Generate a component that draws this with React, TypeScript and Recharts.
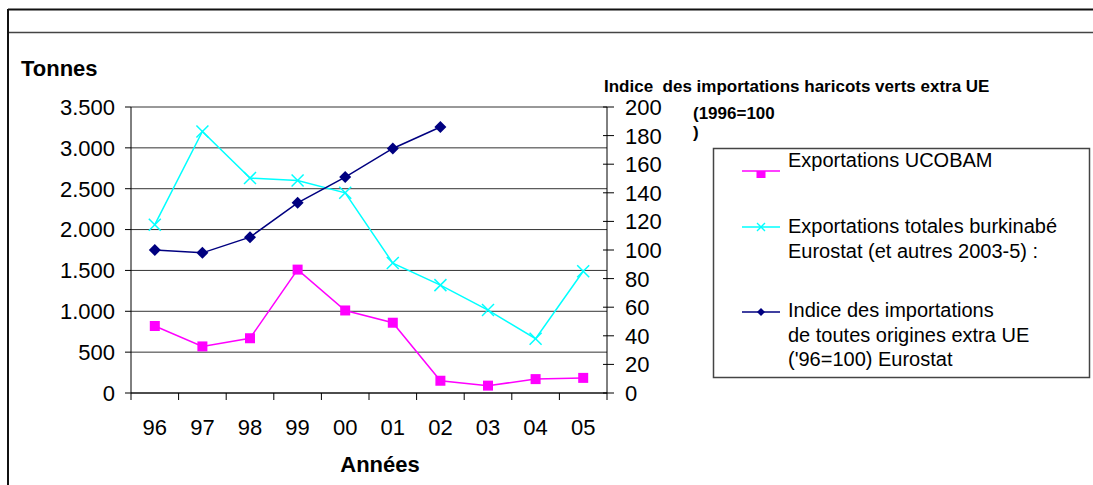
import { CartesianGrid, Line, LineChart, XAxis, YAxis } from "recharts";

const years = ["96", "97", "98", "99", "00", "01", "02", "03", "04", "05"];
const ucobam = [820, 570, 670, 1510, 1010, 860, 150, 90, 170, 185];
const totales = [2060, 3200, 2630, 2600, 2450, 1590, 1320, 1015, 665, 1490];
const indice: (number | null)[] = [100, 98, 109, 133, 151, 171, 186, null, null, null];
const leftTicks = [0, 500, 1000, 1500, 2000, 2500, 3000, 3500];
const rightTicks = [0, 20, 40, 60, 80, 100, 120, 140, 160, 180, 200];

const FONT = '"Liberation Sans", Arial, sans-serif';
const W = 1093;
const H = 485;
// plot box: x 131..607, y 107..393
const PLOT_W = 476;
const HALF_BAND = PLOT_W / years.length / 2;

const data = years.map((year, i) => ({
  year,
  ucobam: ucobam[i],
  totales: totales[i],
  indice: indice[i],
}));

const PINK = "#ff00ff";
const CYAN = "#00ffff";
const NAVY = "#000080";

function SquareDot(props: any) {
  const { cx, cy } = props;
  if (cx == null || cy == null) return null;
  return <rect x={cx - 5} y={cy - 5} width={10} height={10} fill={PINK} />;
}

function CrossDot(props: any) {
  const { cx, cy } = props;
  if (cx == null || cy == null) return null;
  return (
    <g stroke={CYAN} strokeWidth={1.5}>
      <line x1={cx - 6} y1={cy - 6} x2={cx + 6} y2={cy + 6} />
      <line x1={cx - 6} y1={cy + 6} x2={cx + 6} y2={cy - 6} />
    </g>
  );
}

function DiamondDot(props: any) {
  const { cx, cy } = props;
  if (cx == null || cy == null) return null;
  return <polygon points={`${cx},${cy - 6} ${cx + 6},${cy} ${cx},${cy + 6} ${cx - 6},${cy}`} fill={NAVY} />;
}

// labels at band centres, tick marks on band boundaries
function YearTick(props: any) {
  const { x, y, payload, index } = props;
  const last = index === years.length - 1;
  return (
    <g>
      <line x1={x - HALF_BAND} y1={y} x2={x - HALF_BAND} y2={y + 7} stroke="#000" />
      {last && <line x1={x + HALF_BAND} y1={y} x2={x + HALF_BAND} y2={y + 7} stroke="#000" />}
      <text x={x} y={y + 42} textAnchor="middle" fontSize={22} fontFamily={FONT} fill="#000">
        {payload.value}
      </text>
    </g>
  );
}

// right axis ticks cross the axis line
function IndexTick(props: any) {
  const { x, y, payload } = props;
  return (
    <g>
      <line x1={x - 4} y1={y} x2={x + 7} y2={y} stroke="#000" />
      <text x={x + 18} y={y + 8} fontSize={22} fontFamily={FONT} fill="#000">
        {payload.value}
      </text>
    </g>
  );
}

const fmtThousands = (v: number) => v.toLocaleString("de-DE");

const legendItems = [
  { color: PINK, kind: "square", lineY: 171, lines: ["Exportations UCOBAM"], baseline: 167 },
  {
    color: CYAN,
    kind: "cross",
    lineY: 227,
    lines: ["Exportations totales burkinabé", "Eurostat (et autres 2003-5) :"],
    baseline: 233,
  },
  {
    color: NAVY,
    kind: "diamond",
    lineY: 312,
    lines: ["Indice des importations", "de toutes origines extra UE", "('96=100) Eurostat"],
    baseline: 317,
  },
];

function LegendMarker({ kind, color, y }: { kind: string; color: string; y: number }) {
  const cx = 761;
  if (kind === "square") return <rect x={cx - 4.5} y={y} width={9} height={7} fill={color} />;
  if (kind === "cross")
    return (
      <g stroke={color} strokeWidth={1.3}>
        <line x1={cx - 4} y1={y - 4} x2={cx + 4} y2={y + 4} />
        <line x1={cx - 4} y1={y + 4} x2={cx + 4} y2={y - 4} />
      </g>
    );
  return <polygon points={`${cx},${y - 4} ${cx + 4},${y} ${cx},${y + 4} ${cx - 4},${y}`} fill={color} />;
}

export default function App() {
  return (
    <div style={{ position: "fixed", left: 0, top: 0, width: W, height: H, background: "#fff" }}>
      <div style={{ position: "absolute", left: 0, top: 0 }}>
        <LineChart
          width={W}
          height={H}
          data={data}
          margin={{ top: 107, left: 0, right: 416, bottom: 22 }}
        >
          <CartesianGrid yAxisId="left" vertical={false} stroke="#333" />
          <XAxis
            dataKey="year"
            height={70}
            padding={{ left: HALF_BAND, right: HALF_BAND }}
            axisLine={{ stroke: "#000" }}
            tickLine={false}
            tickSize={0}
            tickMargin={0}
            interval={0}
            tick={<YearTick />}
          />
          <YAxis
            yAxisId="left"
            width={131}
            domain={[0, 3500]}
            ticks={leftTicks}
            interval={0}
            tickFormatter={fmtThousands}
            tick={{ fontSize: 22, fontFamily: FONT, fill: "#000" }}
            tickSize={6}
            tickMargin={10}
            axisLine={{ stroke: "#000" }}
            tickLine={{ stroke: "#000" }}
          />
          <YAxis
            yAxisId="right"
            orientation="right"
            width={70}
            domain={[0, 200]}
            ticks={rightTicks}
            interval={0}
            tick={<IndexTick />}
            tickSize={0}
            tickMargin={0}
            axisLine={{ stroke: "#000" }}
            tickLine={false}
          />
          <Line
            yAxisId="left"
            dataKey="ucobam"
            stroke={PINK}
            strokeWidth={1.5}
            dot={<SquareDot />}
            activeDot={false}
            isAnimationActive={false}
          />
          <Line
            yAxisId="left"
            dataKey="totales"
            stroke={CYAN}
            strokeWidth={1.5}
            dot={<CrossDot />}
            activeDot={false}
            isAnimationActive={false}
          />
          <Line
            yAxisId="right"
            dataKey="indice"
            stroke={NAVY}
            strokeWidth={1.5}
            dot={<DiamondDot />}
            activeDot={false}
            connectNulls={false}
            isAnimationActive={false}
          />
        </LineChart>
      </div>
      <svg
        width={W}
        height={H}
        style={{ position: "absolute", left: 0, top: 0, pointerEvents: "none" }}
        fontFamily={FONT}
      >
        {/* outer frame */}
        <line x1={8} y1={9.5} x2={W} y2={9.5} stroke="#111" strokeWidth={2} />
        <line x1={8} y1={32.5} x2={W} y2={32.5} stroke="#444" strokeWidth={1.5} />
        <line x1={8} y1={9} x2={8} y2={H} stroke="#111" strokeWidth={2} />

        <text x={21} y={76} fontSize={22} fontWeight="bold">Tonnes</text>
        <text x={604} y={92} fontSize={17} fontWeight="bold" style={{ whiteSpace: "pre" }}>
          {"Indice  des importations haricots verts extra UE"}
        </text>
        <text x={693} y={119} fontSize={17} fontWeight="bold">(1996=100</text>
        <text x={693} y={138} fontSize={17} fontWeight="bold">)</text>
        <text x={380} y={472} fontSize={22} fontWeight="bold" textAnchor="middle">Années</text>

        <rect x={713.5} y={148.5} width={376} height={229} fill="none" stroke="#444" strokeWidth={1.5} />
        {legendItems.map((it) => (
          <g key={it.lines[0]}>
            <line x1={742} y1={it.lineY} x2={780} y2={it.lineY} stroke={it.color} strokeWidth={1.5} />
            <LegendMarker kind={it.kind} color={it.color} y={it.lineY} />
            {it.lines.map((t, k) => (
              <text key={t} x={788} y={it.baseline + k * 24.5} fontSize={20}>
                {t}
              </text>
            ))}
          </g>
        ))}
      </svg>
    </div>
  );
}
